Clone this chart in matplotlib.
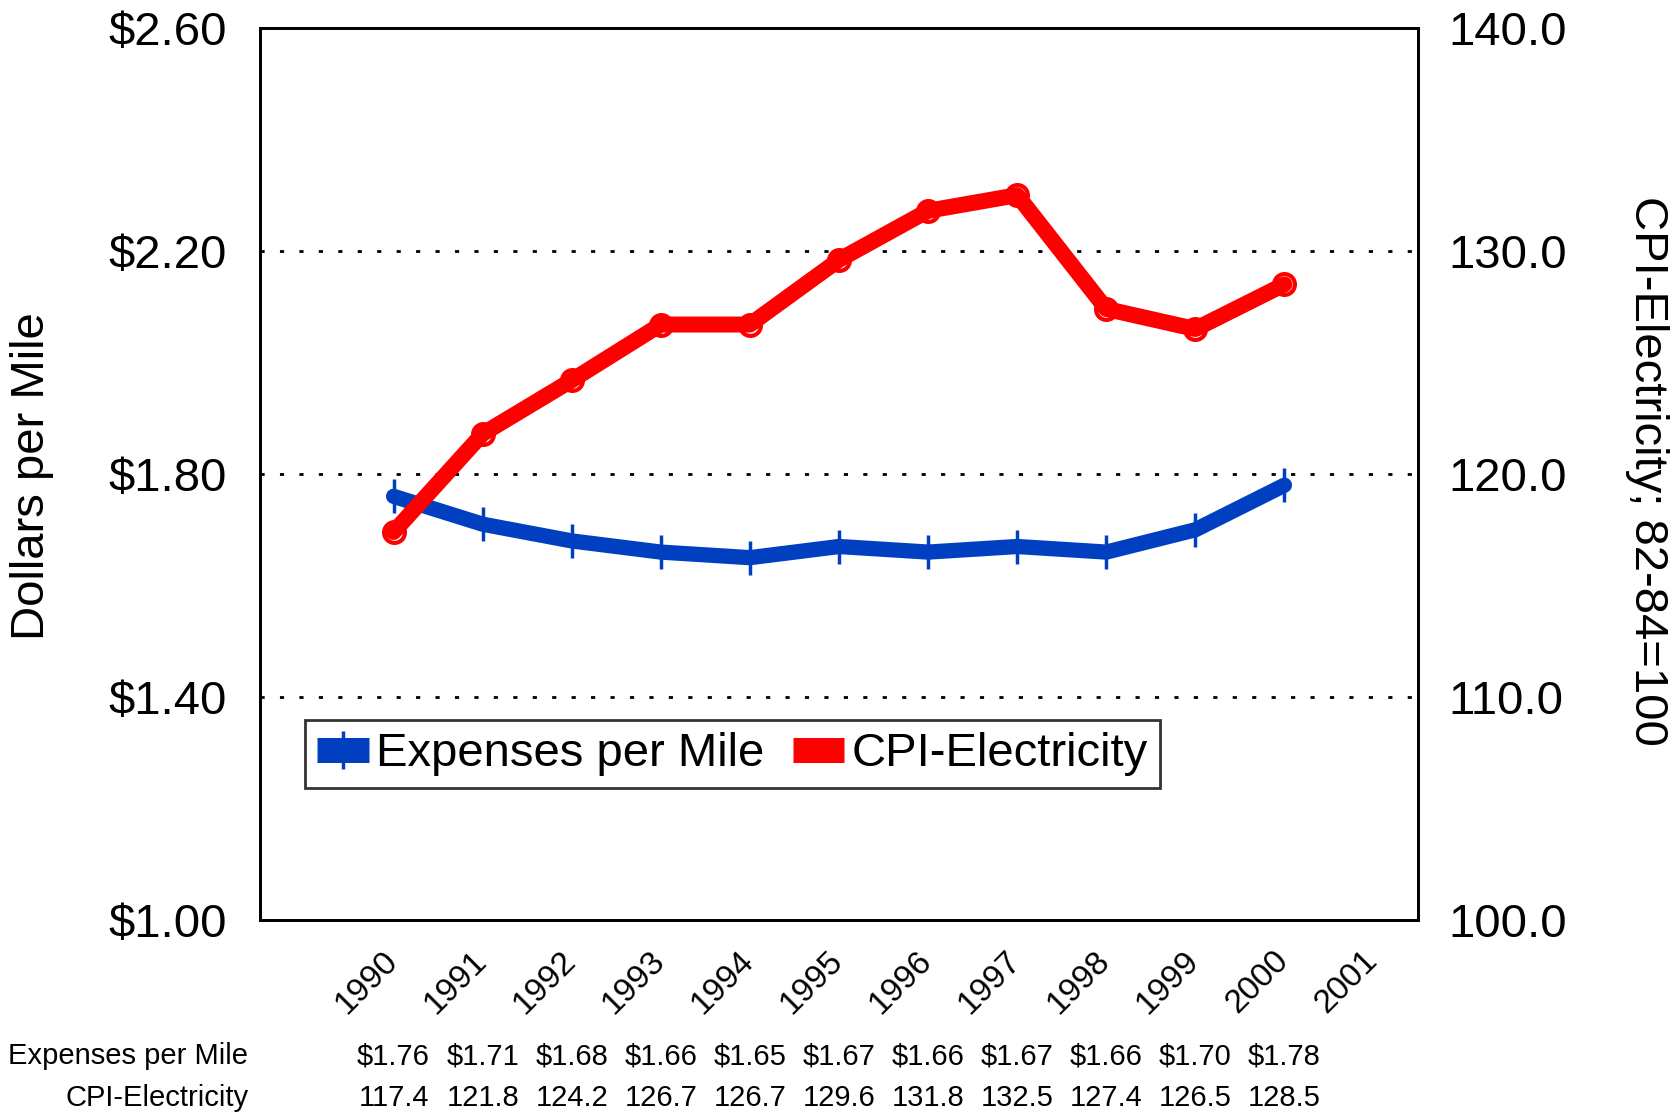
import matplotlib
matplotlib.use("Agg")
import matplotlib.pyplot as plt
import matplotlib.transforms as mtransforms
from matplotlib.lines import Line2D

plt.rcParams['font.family'] = ['Liberation Sans', 'DejaVu Sans']

years = ['1990', '1991', '1992', '1993', '1994', '1995', '1996', '1997', '1998', '1999', '2000', '2001']
expenses = [1.76, 1.71, 1.68, 1.66, 1.65, 1.67, 1.66, 1.67, 1.66, 1.70, 1.78]
cpi = [117.4, 121.8, 124.2, 126.7, 126.7, 129.6, 131.8, 132.5, 127.4, 126.5, 128.5]
exp_labels = ['$1.76', '$1.71', '$1.68', '$1.66', '$1.65', '$1.67', '$1.66', '$1.67', '$1.66', '$1.70', '$1.78']
cpi_labels = ['117.4', '121.8', '124.2', '126.7', '126.7', '129.6', '131.8', '132.5', '127.4', '126.5', '128.5']
left_ticks = [1.00, 1.40, 1.80, 2.20, 2.60]
right_ticks = [100.0, 110.0, 120.0, 130.0, 140.0]

blue = '#0040C0'
red = '#FF0000'

fig = plt.figure(figsize=(16.77, 11.14), dpi=100)
ax = fig.add_axes([0.155, 0.174, 0.6906, 0.801])
ax2 = ax.twinx()

x = list(range(len(expenses)))
xc = list(range(len(cpi)))

# dotted gridlines
for t in left_ticks[1:-1]:
    ax.axhline(t, color='black', lw=2, linestyle=(0, (1.5, 5.5)), zorder=1)

l1, = ax.plot(x, expenses, color=blue, lw=11, solid_capstyle='round', solid_joinstyle='round',
              marker='|', markersize=24, markeredgewidth=2.5, markeredgecolor=blue, zorder=3)
l2, = ax2.plot(xc, cpi, color=red, lw=11.5, solid_capstyle='round', solid_joinstyle='round',
               marker='o', markersize=15, markerfacecolor='none', markeredgewidth=3,
               markeredgecolor=red, zorder=3)

ax.set_ylim(1.0, 2.6)
ax2.set_ylim(100, 140)
ax.set_xlim(-1.5, 11.5)

ax.set_yticks(left_ticks)
ax.set_yticklabels(['$%.2f' % v for v in left_ticks], fontsize=34)
ax2.set_yticks(right_ticks)
ax2.set_yticklabels(['%.1f' % v for v in right_ticks], fontsize=34)
ax.tick_params(axis='y', length=0, pad=24)
ax2.tick_params(axis='y', length=0, pad=22)

ax.set_xticks(range(len(years)))
ax.set_xticklabels(years, rotation=45, ha='right', va='top', fontsize=24)
ax.tick_params(axis='x', length=0, pad=18)
shift = mtransforms.ScaledTranslation(10 / 100, 0, fig.dpi_scale_trans)
for lab in ax.get_xticklabels():
    lab.set_transform(lab.get_transform() + shift)

for sp in list(ax.spines.values()) + list(ax2.spines.values()):
    sp.set_linewidth(2)
    sp.set_color('black')

fig.text(0.019, 0.573, 'Dollars per Mile', rotation=90, ha='center', va='center', fontsize=34)
fig.text(0.982, 0.577, 'CPI-Electricity; 82-84=100', rotation=-90, ha='center', va='center', fontsize=34)

# data table under the axis
trans = mtransforms.blended_transform_factory(ax.transData, fig.transFigure)
fig.text(0.148, 0.052, 'Expenses per Mile', ha='right', va='center', fontsize=21)
fig.text(0.148, 0.0144, 'CPI-Electricity', ha='right', va='center', fontsize=21)
for i, s in enumerate(exp_labels):
    ax.text(i, 0.052, s, transform=trans, ha='center', va='center', fontsize=21)
for i, s in enumerate(cpi_labels):
    ax.text(i, 0.0144, s, transform=trans, ha='center', va='center', fontsize=21)

h1 = Line2D([], [], color=blue, lw=18, solid_capstyle='butt', marker='|', markersize=28,
            markeredgewidth=2.5, markeredgecolor=blue)
h2 = Line2D([], [], color=red, lw=18, solid_capstyle='butt', marker='o', markersize=15,
            markerfacecolor='none', markeredgewidth=3, markeredgecolor=red)
leg = ax.legend([h1, h2], ['Expenses per Mile', 'CPI-Electricity'], ncol=2, fontsize=34,
                loc='lower left', bbox_to_anchor=(0.039, 0.148), frameon=True, fancybox=False,
                handlelength=1.1, handletextpad=0.15, columnspacing=0.6, borderpad=0.25,
                borderaxespad=0)
leg.get_frame().set_edgecolor('black')
leg.get_frame().set_linewidth(2)
leg.set_zorder(5)

fig.savefig('out.png', dpi=100)
